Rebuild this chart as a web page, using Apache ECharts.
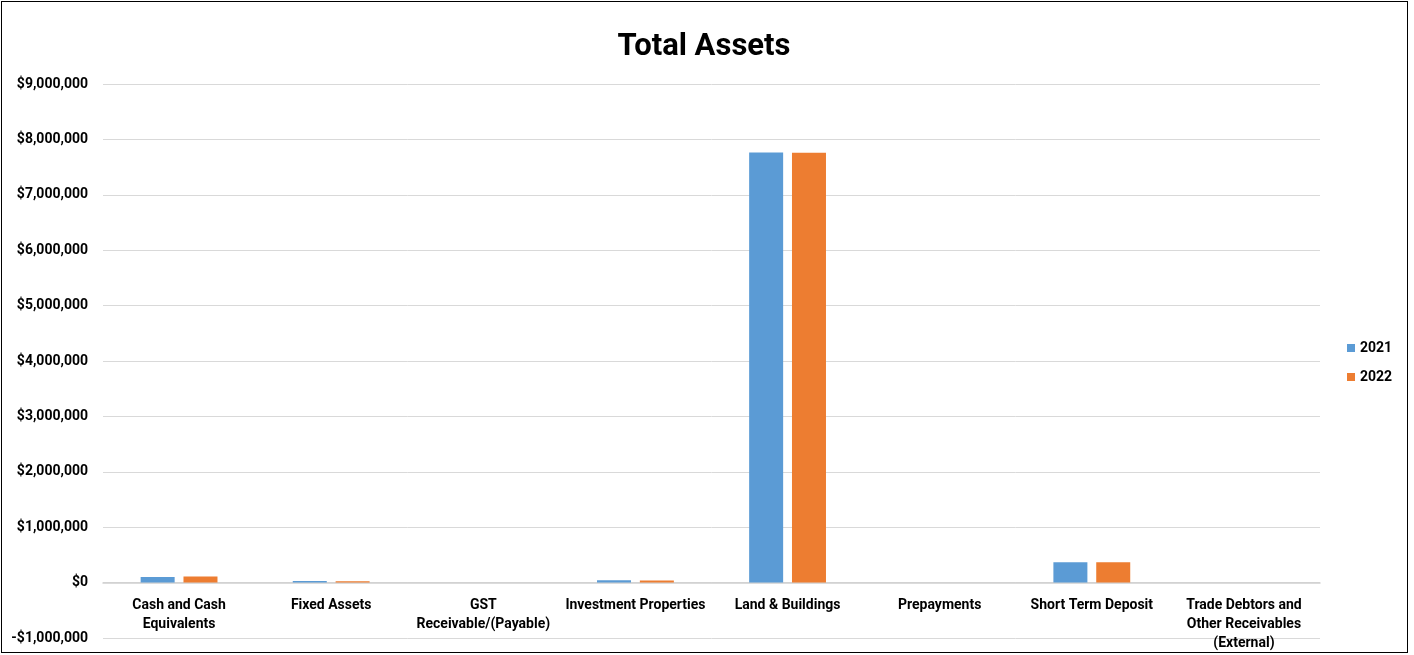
<!DOCTYPE html>
<html><head><meta charset="utf-8">
<script src="https://cdn.jsdelivr.net/npm/echarts@6/dist/echarts.min.js"></script>
<style>
html,body{margin:0;padding:0;background:#fff;}
#frame{position:absolute;left:1px;top:1px;width:1407px;height:652px;border:1px solid #000;box-sizing:border-box;}
#chart{position:absolute;left:0;top:0;width:1414px;height:655px;}
</style></head>
<body>
<div id="frame"></div>
<div id="chart"></div>
<script>
const categories = ["Cash and Cash Equivalents","Fixed Assets","GST Receivable/(Payable)","Investment Properties","Land & Buildings","Prepayments","Short Term Deposit","Trade Debtors and Other Receivables (External)"];
const categoryLabels = ["Cash and Cash\nEquivalents","Fixed Assets","GST\nReceivable/(Payable)","Investment Properties","Land & Buildings","Prepayments","Short Term Deposit","Trade Debtors and\nOther Receivables\n(External)"];
const values2021 = [103000, 28000, 0, 42000, 7765000, 0, 368000, 0];
const values2022 = [108000, 25000, 0, 40000, 7758000, 0, 366000, 0];
const seriesNames = ["2021","2022"];
const yMin = -1000000, yMax = 9000000, yStep = 1000000;

const font = "'Roboto','Noto Sans',sans-serif";
const chart = echarts.init(document.getElementById('chart'));
function money(v){
  const s = Math.abs(v).toLocaleString('en-US');
  return (v < 0 ? '-$' : '$') + s;
}
chart.setOption({
  animation:false,
  title:{text:'Total Assets',left:699,textAlign:'center',top:27,
    textStyle:{fontFamily:font,fontWeight:'bold',fontSize:31,color:'#000'}},
  legend:{orient:'vertical',left:1347,top:341,padding:0,itemWidth:8,itemHeight:8,itemGap:15,
    icon:'rect',textStyle:{fontFamily:font,fontWeight:'bold',fontSize:14,color:'#000'},
    data:seriesNames},
  grid:{left:103,right:94,top:84,bottom:17,containLabel:false,outerBoundsMode:'none'},
  xAxis:{type:'category',data:categories,
    axisLine:{onZero:true,lineStyle:{color:'#d0d0d0',width:1.5}},
    axisTick:{show:false},
    axisLabel:{interval:0,margin:-42,lineHeight:19,
      formatter:function(v,i){return categoryLabels[i];},
      fontFamily:font,fontWeight:'bold',fontSize:14,color:'#000'}},
  yAxis:{type:'value',min:yMin,max:yMax,interval:yStep,
    axisLine:{show:false},axisTick:{show:false},
    splitLine:{lineStyle:{color:'#d9d9d9',width:1}},
    axisLabel:{formatter:money,margin:15,fontFamily:font,fontWeight:'bold',fontSize:14,color:'#000'}},
  series:[
    {name:seriesNames[0],type:'bar',data:values2021,barWidth:34,barGap:'26%',
      itemStyle:{color:'#5b9bd5'}},
    {name:seriesNames[1],type:'bar',data:values2022,barWidth:34,barGap:'26%',
      itemStyle:{color:'#ed7d31'}}
  ]
});
</script>
</body></html>
